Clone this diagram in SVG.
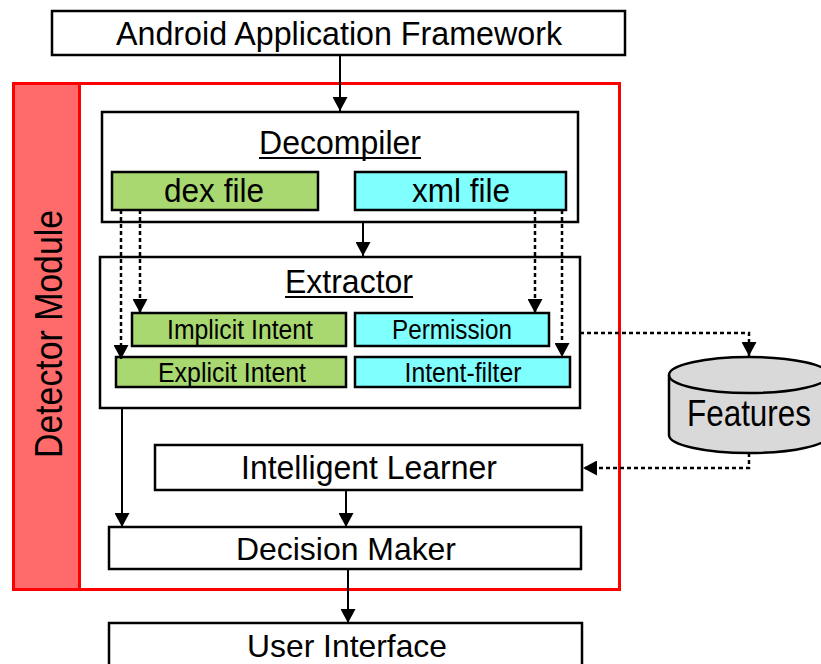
<svg xmlns="http://www.w3.org/2000/svg" width="821" height="664" viewBox="0 0 821 664">
<defs>
<style>
.box{fill:#fff;stroke:#000;stroke-width:2.5}
.g{fill:#A9D871;stroke:#000;stroke-width:2.5}
.c{fill:#80FFFF;stroke:#000;stroke-width:2.5}
.t{font-family:"Liberation Sans",Arial,sans-serif;fill:#000;text-anchor:middle}
.ln{stroke:#000;stroke-width:2;fill:none}
.dl{stroke:#000;stroke-width:2.5;fill:none;stroke-dasharray:4 3}
</style>
<marker id="ah" markerWidth="14" markerHeight="15" refX="14" refY="7.5" orient="auto" markerUnits="userSpaceOnUse" viewBox="0 0 14 15">
<path d="M0,0 L14,7.5 L0,15 Z" fill="#000"/>
</marker>
</defs>
<rect width="821" height="664" fill="#fff"/>

<g id="detector-module">
<rect x="13.5" y="83.5" width="606" height="506" fill="#fff" stroke="#FF0000" stroke-width="3"/>
<rect x="13.5" y="83.5" width="66" height="506" fill="#FF6B6B" stroke="#FF0000" stroke-width="3"/>
<text class="t" transform="translate(62,334) rotate(-90)" font-size="39" textLength="248" lengthAdjust="spacingAndGlyphs">Detector Module</text>
</g>

<g id="framework">
<rect class="box" x="52" y="11" width="573" height="44"/>
<text class="t" x="339" y="45" font-size="34" textLength="446" lengthAdjust="spacingAndGlyphs">Android Application Framework</text>
</g>

<g id="decompiler">
<rect class="box" x="102" y="112" width="476" height="110"/>
<text class="t" x="340" y="154" font-size="33" textLength="162" lengthAdjust="spacingAndGlyphs">Decompiler</text>
<line x1="259" y1="158" x2="421" y2="158" stroke="#000" stroke-width="2"/>
</g>
<g id="dex-file">
<rect class="g" x="112" y="172" width="206" height="38"/>
<text class="t" x="214" y="202" font-size="34" textLength="100" lengthAdjust="spacingAndGlyphs">dex file</text>
</g>
<g id="xml-file">
<rect class="c" x="355" y="172" width="211" height="38"/>
<text class="t" x="461" y="202" font-size="34" textLength="98" lengthAdjust="spacingAndGlyphs">xml file</text>
</g>

<g id="extractor">
<rect class="box" x="100" y="257" width="480" height="151"/>
<text class="t" x="349" y="293" font-size="33" textLength="128" lengthAdjust="spacingAndGlyphs">Extractor</text>
<line x1="285" y1="297" x2="413" y2="297" stroke="#000" stroke-width="2"/>
</g>
<g id="implicit-intent">
<rect class="g" x="132" y="313" width="214" height="33"/>
<text class="t" x="240" y="339" font-size="27" textLength="146" lengthAdjust="spacingAndGlyphs">Implicit Intent</text>
</g>
<g id="permission">
<rect class="c" x="355" y="313" width="194" height="33"/>
<text class="t" x="452" y="339" font-size="27" textLength="120" lengthAdjust="spacingAndGlyphs">Permission</text>
</g>
<g id="explicit-intent">
<rect class="g" x="116" y="357" width="230" height="30"/>
<text class="t" x="232" y="382" font-size="27" textLength="148" lengthAdjust="spacingAndGlyphs">Explicit Intent</text>
</g>
<g id="intent-filter">
<rect class="c" x="355" y="357" width="215" height="30"/>
<text class="t" x="463" y="382" font-size="27" textLength="117" lengthAdjust="spacingAndGlyphs">Intent-filter</text>
</g>

<g id="features">
<path d="M669,375 L669,435 A80,18 0 0 0 829,435 L829,375 A80,18 0 0 0 669,375 Z" fill="#D9D9D9" stroke="#000" stroke-width="2.5"/>
<path d="M669,375 A80,18 0 0 0 829,375" fill="none" stroke="#000" stroke-width="2.5"/>
<text class="t" x="749" y="426" font-size="36" textLength="124" lengthAdjust="spacingAndGlyphs">Features</text>
</g>

<g id="intelligent-learner">
<rect class="box" x="155" y="445" width="427" height="45"/>
<text class="t" x="369" y="479" font-size="33" textLength="256" lengthAdjust="spacingAndGlyphs">Intelligent Learner</text>
</g>

<g id="decision-maker">
<rect class="box" x="109" y="527" width="472" height="42"/>
<text class="t" x="346" y="560" font-size="32" textLength="220" lengthAdjust="spacingAndGlyphs">Decision Maker</text>
</g>

<g id="user-interface">
<rect class="box" x="109" y="623" width="473" height="50"/>
<text class="t" x="347" y="657" font-size="32" textLength="200" lengthAdjust="spacingAndGlyphs">User Interface</text>
</g>

<g id="connectors">
<line class="ln" x1="340" y1="55" x2="340" y2="111" marker-end="url(#ah)"/>
<line class="ln" x1="363" y1="222" x2="363" y2="256" marker-end="url(#ah)"/>
<line class="dl" x1="121" y1="210" x2="121" y2="359" marker-end="url(#ah)"/>
<line class="dl" x1="140" y1="210" x2="140" y2="313" marker-end="url(#ah)"/>
<line class="dl" x1="535" y1="210" x2="535" y2="313" marker-end="url(#ah)"/>
<line class="dl" x1="562" y1="210" x2="562" y2="357" marker-end="url(#ah)"/>
<polyline class="dl" points="580,333 749,333 749,356" marker-end="url(#ah)"/>
<polyline class="dl" points="749,453 749,468 583,468" marker-end="url(#ah)"/>
<line class="ln" x1="122" y1="408" x2="122" y2="527" marker-end="url(#ah)"/>
<line class="ln" x1="346" y1="490" x2="346" y2="527" marker-end="url(#ah)"/>
<line class="ln" x1="348" y1="569" x2="348" y2="623" marker-end="url(#ah)"/>
</g>
</svg>
